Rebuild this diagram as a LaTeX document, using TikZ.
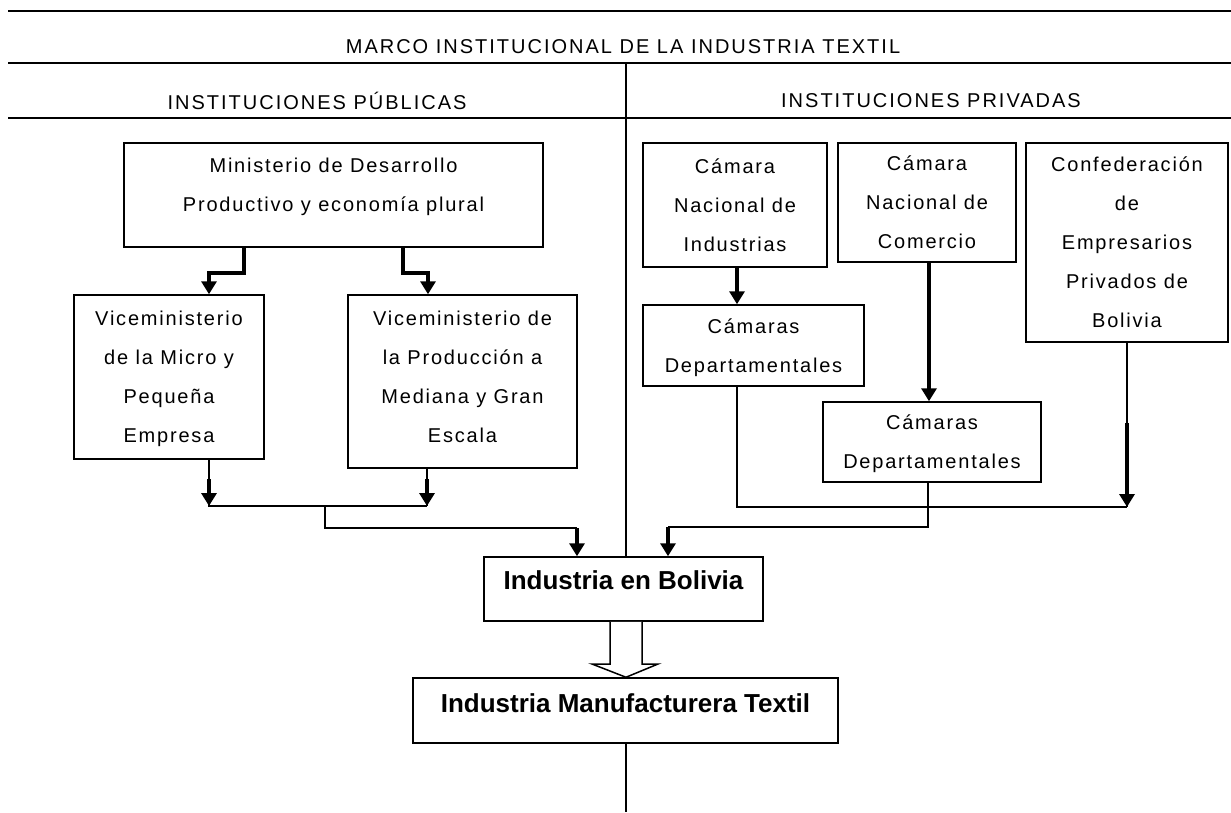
\documentclass[tikz,border=0pt]{standalone}
\usepackage{fontspec}
\usepackage{tikz}
\usetikzlibrary{arrows.meta}
\newfontfamily\regfont[LetterSpace=9]{Liberation Sans}
\newfontfamily\capfont[LetterSpace=10]{Liberation Sans}
\newfontfamily\boldfont{Liberation Sans}

\begin{document}
\begin{tikzpicture}[x=1pt, y=-1pt]
	\tikzstyle{every node} = [inner sep=0pt, align=center, font={\regfont\fontsize{20}{39}\selectfont}]
	\tikzstyle{head} = [font={\capfont\fontsize{20}{24}\selectfont}]
	\tikzstyle{box} = [draw, line width=1.5pt, text depth=0pt]
	\tikzstyle{bbox} = [box, font={\boldfont\bfseries\fontsize{26}{30}\selectfont}]
	\tikzstyle{rule} = [line width=2.5pt]
	\tikzstyle{thin} = [line width=1.5pt]
	\tikzstyle{fat} = [line width=4pt, -{Triangle[width=15pt, length=13pt]}]
	\useasboundingbox (0,0) rectangle (1231,812);
	\fill[white] (0,0) rectangle (1231,812);
	\draw[rule] (8,11) -- (1231,11);
	\draw[rule] (8,63) -- (1231,63);
	\draw[rule] (8,118) -- (1231,118);
	\node[head] (T0) at (623,47) {MARCO INSTITUCIONAL DE LA INDUSTRIA TEXTIL};
	\node[head] (P0) at (317,101) {INSTITUCIONES PÚBLICAS};
	\node[head] (R0) at (931,101) {INSTITUCIONES PRIVADAS};
	\node[box, minimum width=419pt, minimum height=104pt, text depth=21pt] (MIN) at (333.5,195) {Ministerio de Desarrollo\\Productivo y economía plural};
	\node[box, minimum width=190pt, minimum height=164pt] (V1) at (169,377) {Viceministerio\\de la Micro y\\Pequeña\\Empresa};
	\node[box, minimum width=229pt, minimum height=173pt, text depth=9pt] (V2) at (462.5,381.5) {Viceministerio de\\la Producción a\\Mediana y Gran\\Escala};
	\node[box, minimum width=184pt, minimum height=124pt] (CNI) at (735,205) {Cámara\\Nacional de\\Industrias};
	\node[box, minimum width=178pt, minimum height=119pt] (CNC) at (927,202.5) {Cámara\\Nacional de\\Comercio};
	\node[box, minimum width=202pt, minimum height=199pt] (CEP) at (1127,242.5) {Confederación\\de\\Empresarios\\Privados de\\Bolivia};
	\node[box, minimum width=221pt, minimum height=81pt] (CD1) at (753.5,345.5) {Cámaras\\Departamentales};
	\node[box, minimum width=218pt, minimum height=80pt] (CD2) at (932,442) {Cámaras\\Departamentales};
	\node[bbox, minimum width=279pt, minimum height=64pt, text depth=18pt] (IB) at (623.5,589) {Industria en Bolivia};
	\node[bbox, minimum width=425pt, minimum height=65pt, text depth=15pt] (IMT) at (625.5,710.5) {Industria Manufacturera Textil};
	% divisor
	\draw[thin] (626,63) -- (626,0 |- IB.north);
	% publicas
	\draw[fat] (244,0 |- MIN.south) -- (244,273) -| (209,0 |- V1.north);
	\draw[fat] (403,0 |- MIN.south) -- (403,273) -| (428,0 |- V2.north);
	\draw[thin] (209,0 |- V1.south) -- (209,506) -- (427,506);
	\draw[thin] (427,0 |- V2.south) -- (427,506);
	\draw[fat] (209,479) -- (209,506);
	\draw[fat] (427,479) -- (427,506);
	\draw[thin] (325,506) |- (577,528);
	\draw[fat] (577,528) -- (577,0 |- IB.north);
	% privadas
	\draw[fat] (737,0 |- CNI.south) -- (737,0 |- CD1.north);
	\draw[fat] (929,0 |- CNC.south) -- (929,0 |- CD2.north);
	\draw[thin] (CEP.south) -- (1127,507);
	\draw[fat] (1127,423) -- (1127,507);
	\draw[thin] (737,0 |- CD1.south) |- (1127,507);
	\draw[thin] (928,0 |- CD2.south) |- (668,527);
	\draw[fat] (668,527) -- (668,0 |- IB.north);
	% flecha hueca
	\draw[thin, fill=white] (610,0 |- IB.south) -- (610,664) -- (592,664) -- (626,0 |- IMT.north) -- (658,664) -- (642,664) -- (642,0 |- IB.south);
	\draw[thin] (626,0 |- IMT.south) -- (626,812);
\end{tikzpicture}
\end{document}
